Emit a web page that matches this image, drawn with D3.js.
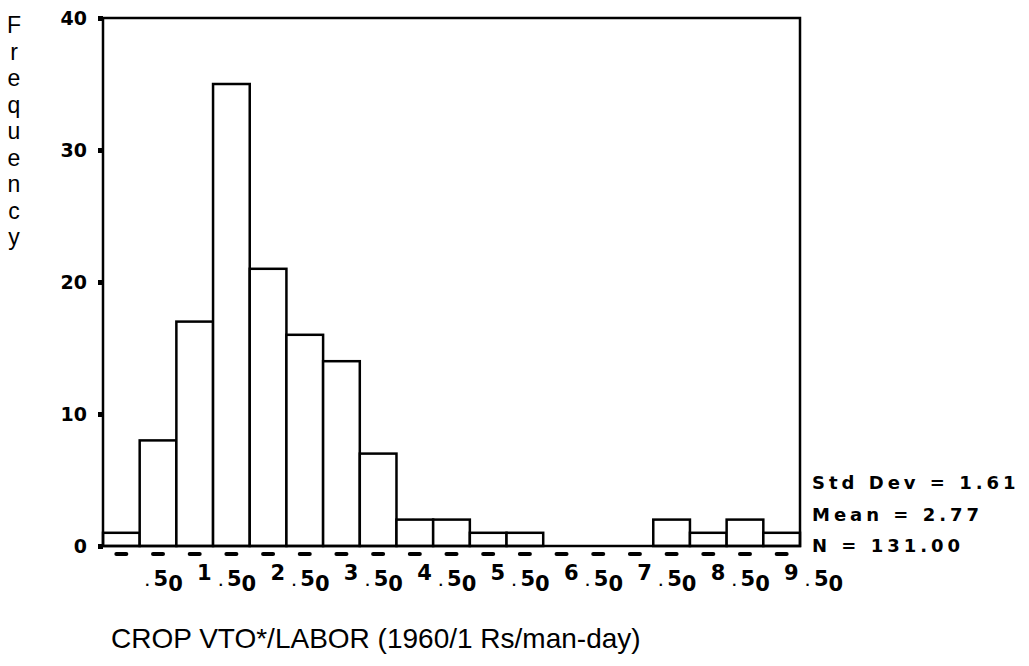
<!DOCTYPE html>
<html>
<head>
<meta charset="utf-8">
<script src="https://cdn.jsdelivr.net/npm/d3@7"></script>
<style>
  body { margin: 0; background: #fff; }
  svg { display: block; }
</style>
</head>
<body>
<svg id="chart" width="1029" height="666"></svg>
<script>
// bin centers (width .5) and counts
const binCenters = [0, 0.5, 1, 1.5, 2, 2.5, 3, 3.5, 4, 4.5, 5, 5.5, 6, 6.5, 7, 7.5, 8, 8.5, 9];
const counts = [1, 8, 17, 35, 21, 16, 14, 7, 2, 2, 1, 1, 0, 0, 0, 2, 1, 2, 1];
const xLabels = [0.5, 1.5, 2.5, 3.5, 4.5, 5.5, 6.5, 7.5, 8.5, 9.5];
const yTicks = [0, 10, 20, 30, 40];
const stats = ["Std Dev = 1.61", "Mean = 2.77", "N = 131.00"];
const yTitle = "Frequency";
const xTitle = "CROP VTO*/LABOR (1960/1 Rs/man-day)";

const svg = d3.select("#chart");
const plotL = 103, plotR = 800, plotT = 18, plotB = 546;
const binW = 0.5;

const x = d3.scaleLinear().domain([-0.25, 9.25]).range([plotL, plotR]);
const y = d3.scaleLinear().domain([0, 40]).range([plotB, plotT]);

// bars
svg.append("g")
  .selectAll("rect")
  .data(binCenters)
  .join("rect")
  .attr("x", (d) => x(d - binW / 2))
  .attr("width", (d) => x(d + binW / 2) - x(d - binW / 2))
  .attr("y", (d, i) => y(counts[i]))
  .attr("height", (d, i) => y(0) - y(counts[i]))
  .attr("fill", "#fff")
  .attr("stroke", "#000")
  .attr("stroke-width", 2.5);

// frame
svg.append("rect")
  .attr("x", plotL).attr("y", plotT)
  .attr("width", plotR - plotL).attr("height", plotB - plotT)
  .attr("fill", "none")
  .attr("stroke", "#000")
  .attr("stroke-width", 2.5);

// y axis
const yAxis = svg.append("g")
  .attr("transform", `translate(${plotL},0)`)
  .call(d3.axisLeft(y).tickValues(yTicks).tickSize(5).tickPadding(11).tickFormat(d3.format("d")));
yAxis.select(".domain").remove();
yAxis.selectAll(".tick line").attr("stroke", "#000").attr("stroke-width", 5);
yAxis.selectAll(".tick text")
  .attr("fill", "#000")
  .style("font-family", "DejaVu Sans")
  .style("font-weight", "bold")
  .style("font-size", "19px");

// dash ticks under each bin
svg.append("g")
  .selectAll("line")
  .data(binCenters)
  .join("line")
  .attr("x1", (d) => x(d) - 5)
  .attr("x2", (d) => x(d) + 5)
  .attr("y1", plotB + 8)
  .attr("y2", plotB + 8)
  .attr("stroke", "#000")
  .attr("stroke-width", 4)
  .attr("stroke-linecap", "round");

// x tick labels: integer part raised, ".50" dropped
const lab = svg.append("g")
  .style("font-family", "DejaVu Sans")
  .style("font-weight", "bold")
  .style("font-size", "21px")
  .attr("fill", "#000");

lab.selectAll("text.int")
  .data(xLabels.filter((d) => Math.floor(d) > 0))
  .join("text")
  .attr("class", "int")
  .attr("x", (d) => x(d) - 27)
  .attr("y", 580)
  .attr("text-anchor", "middle")
  .text((d) => Math.floor(d));

const frac = lab.selectAll("text.frac")
  .data(xLabels)
  .join("text")
  .attr("class", "frac")
  .attr("x", (d) => x(d) - 13)
  .attr("y", 586);
frac.append("tspan").style("font-size", "12px").text(".");
frac.append("tspan").attr("dx", 4).text("5");
frac.append("tspan").attr("dy", 5).text("0");

// stats block
svg.append("g")
  .selectAll("text")
  .data(stats)
  .join("text")
  .attr("x", 812)
  .attr("y", (d, i) => 489 + i * 31.5)
  .style("font-family", "DejaVu Sans")
  .style("font-weight", "bold")
  .style("font-size", "18px")
  .style("letter-spacing", "4px")
  .attr("fill", "#000")
  .text((d) => d);

// y title, stacked letters
svg.append("g")
  .selectAll("text")
  .data(yTitle.split(""))
  .join("text")
  .attr("x", 14)
  .attr("y", (d, i) => 33 + i * 26.5)
  .attr("text-anchor", "middle")
  .style("font-family", "Liberation Sans")
  .style("font-size", "23px")
  .attr("fill", "#000")
  .text((d) => d);

// x title
svg.append("text")
  .attr("x", 111)
  .attr("y", 648)
  .style("font-family", "Liberation Sans")
  .style("font-size", "28px")
  .attr("fill", "#000")
  .text(xTitle);
</script>
</body>
</html>
